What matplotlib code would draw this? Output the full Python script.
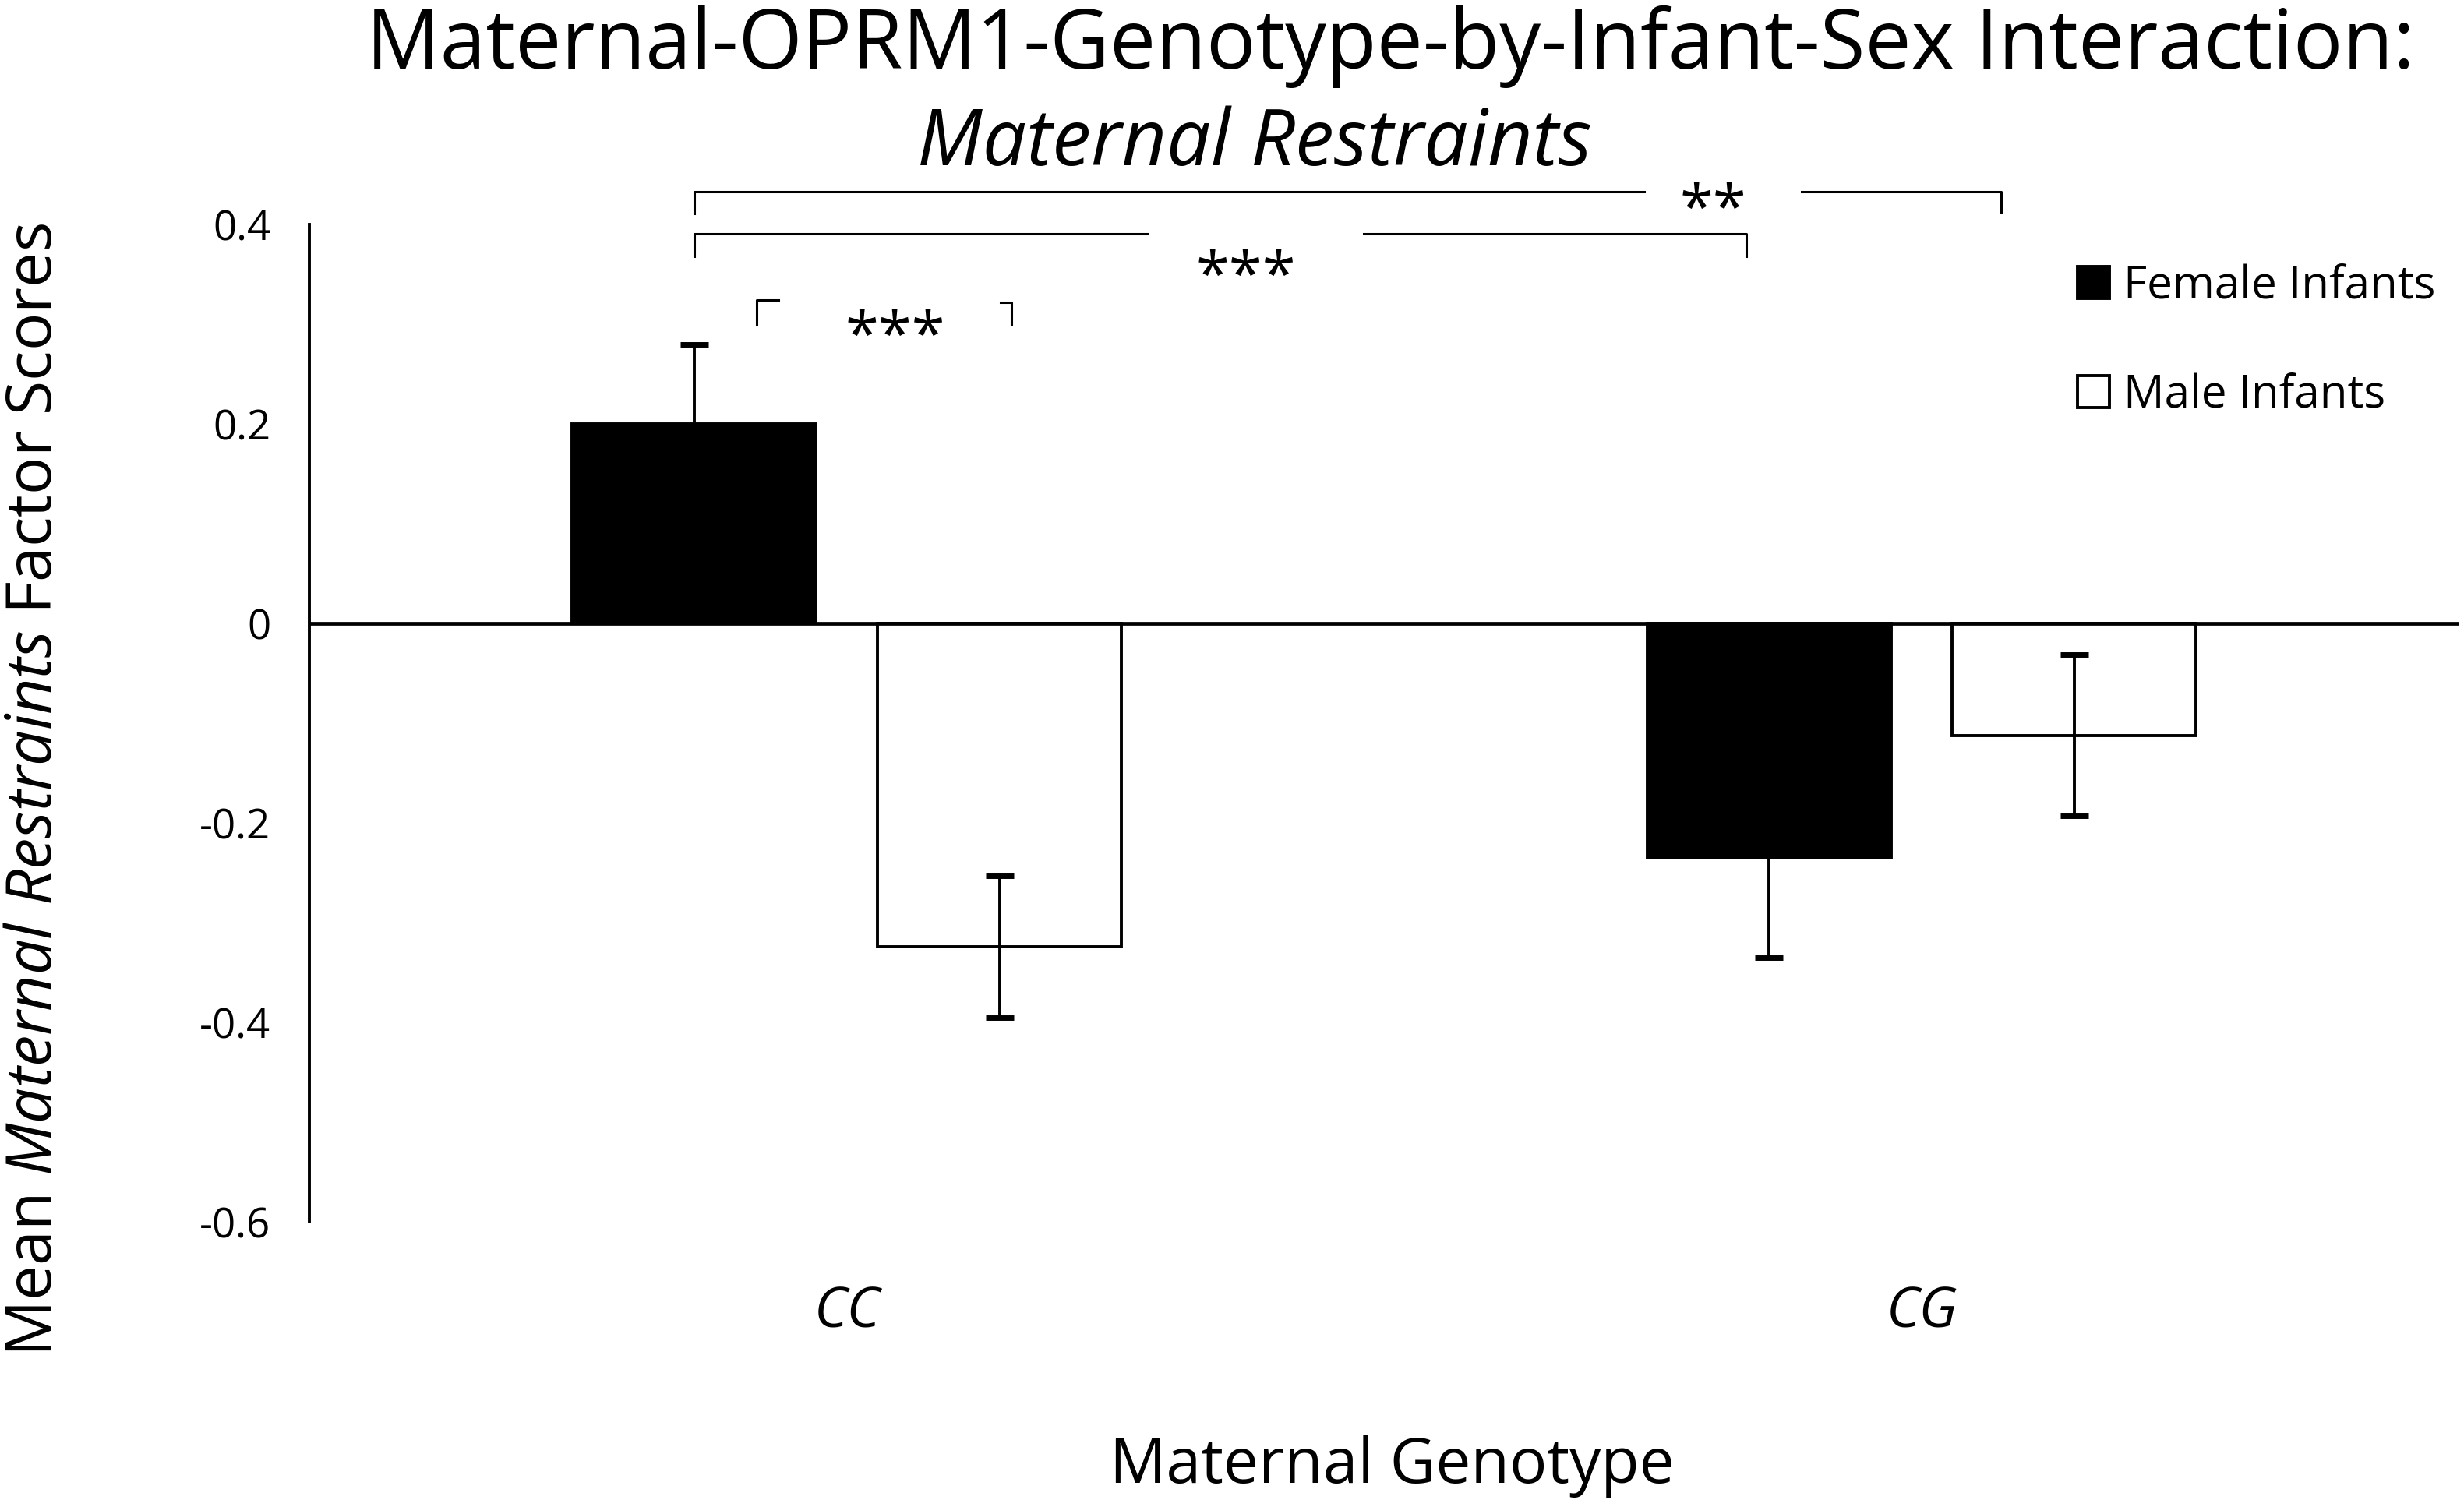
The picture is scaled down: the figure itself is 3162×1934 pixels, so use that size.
import numpy as np
import matplotlib
matplotlib.use("Agg")
from matplotlib import pyplot as plt

plt.rcParams['font.family'] = ['Open Sans', 'DejaVu Sans']
plt.rcParams['mathtext.fontset'] = 'custom'
plt.rcParams['mathtext.rm'] = 'Open Sans'
plt.rcParams['mathtext.it'] = 'Open Sans:italic'

# data
genotypes = ["CC", "CG"]
series = ["Female Infants", "Male Infants"]
female_means = [0.20, -0.235]
male_means = [-0.324, -0.112]
female_err = [0.08, 0.10]
male_err = [0.071, 0.081]
ytick_vals = [-0.6, -0.4, -0.2, 0, 0.2, 0.4]
ytick_labels = ["-0.6", "-0.4", "-0.2", "0", "0.2", "0.4"]

fig = plt.figure(figsize=(15.81, 9.67), dpi=200)
ax = fig.add_axes([0.1256, 0.189, 0.8724, 0.662])

x = np.arange(len(genotypes))
w = 0.227
off = 0.142

b1 = ax.bar(x - off, female_means, w, color="black", edgecolor="black", linewidth=1.4, label=series[0], zorder=2)
b2 = ax.bar(x + off, male_means, w, color="white", edgecolor="black", linewidth=1.4, label=series[1], zorder=2)
ax.errorbar(x - off, female_means, yerr=female_err, fmt="none", ecolor="black",
            elinewidth=1.4, capsize=6.5, capthick=2.5, zorder=4)
ax.errorbar(x + off, male_means, yerr=male_err, fmt="none", ecolor="black",
            elinewidth=1.4, capsize=6.5, capthick=2.5, zorder=4)

ax.axhline(0, color="black", linewidth=1.7, zorder=3)

ax.set_xlim(-0.5, 1.5)
ax.set_ylim(-0.6, 0.4)
ax.set_yticks(ytick_vals)
ax.set_yticklabels(ytick_labels, fontsize=19)
ax.set_xticks(x)
ax.set_xticklabels(genotypes, fontsize=26, style="italic")
ax.tick_params(axis="y", length=0, pad=18)
ax.tick_params(axis="x", length=0, pad=29)
for s in ["top", "right", "bottom"]:
    ax.spines[s].set_visible(False)
ax.spines["left"].set_linewidth(1.4)

# significance brackets
lk = dict(color="black", linewidth=1.1, clip_on=False, zorder=5)
fc = x[0] - off
sk = dict(ha="center", va="center", fontsize=28)
# outer bracket (**)
ax.plot([fc, fc, 0.742], [0.411, 0.433, 0.433], **lk)
ax.plot([0.888, 1.074, 1.074], [0.433, 0.433, 0.413], **lk)
ax.text(0.806, 0.412, "**", **sk)
# middle bracket (***)
ax.plot([fc, fc, 0.279], [0.368, 0.391, 0.391], **lk)
ax.plot([0.481, 0.837, 0.837], [0.391, 0.391, 0.368], **lk)
ax.text(0.371, 0.345, "***", **sk)
# small bracket (***)
ax.plot([-0.084, -0.084, -0.064], [0.300, 0.324, 0.324], **lk)
ax.plot([0.143, 0.153, 0.153], [0.322, 0.322, 0.300], **lk)
ax.text(0.045, 0.285, "***", **sk)

ax.legend(handles=[b1, b2], loc="upper left", bbox_to_anchor=(0.834, 0.840),
          bbox_transform=fig.transFigure, frameon=False, fontsize=21,
          handlelength=0.7, handleheight=0.7, handletextpad=0.3,
          labelspacing=1.4, borderpad=0)

fig.text(0.5644, 0.969, "Maternal-OPRM1-Genotype-by-Infant-Sex Interaction:",
         ha="center", va="center", fontsize=38)
fig.text(0.509, 0.904, "Maternal Restraints", ha="center", va="center",
         fontsize=36, style="italic")
fig.text(0.565, 0.027, "Maternal Genotype", ha="center", va="center", fontsize=29)
fig.text(0.014, 0.476, r"Mean $\mathit{Maternal\ Restraints}$ Factor Scores",
         ha="center", va="center", rotation=90, fontsize=29)

fig.savefig("out.png", dpi=200, facecolor="white")
